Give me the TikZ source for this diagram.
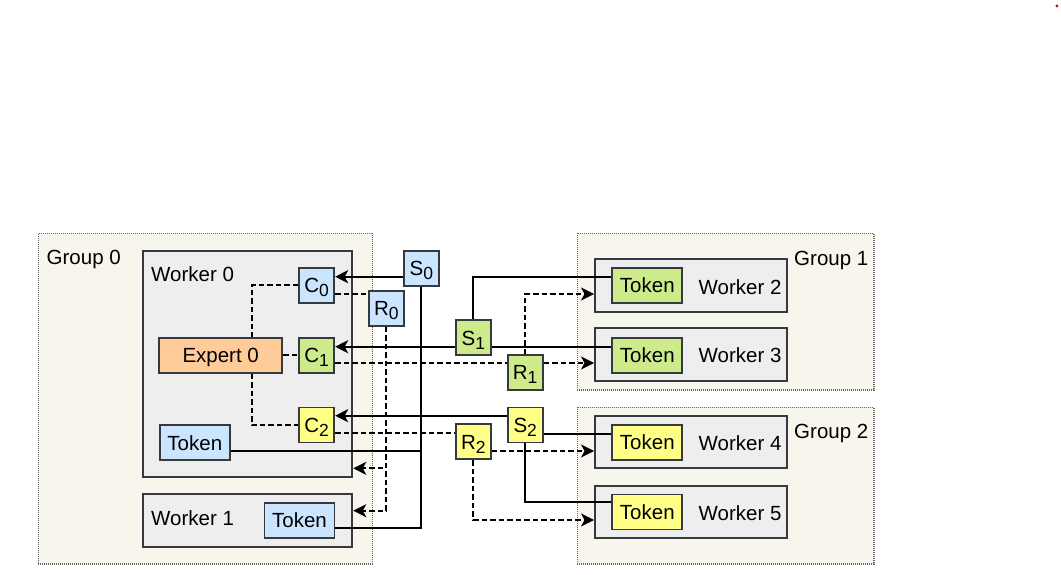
\documentclass[tikz,border=0pt]{standalone}
\usepackage{fontspec}
\setmainfont{Liberation Sans}
\usetikzlibrary{arrows.meta}
\definecolor{strk}{HTML}{36393D}
\definecolor{bl}{HTML}{CCE5FF}
\definecolor{gr}{HTML}{CDEB8B}
\definecolor{yl}{HTML}{FFFF88}
\definecolor{org}{HTML}{FFCC99}
\definecolor{wgray}{HTML}{EEEEEE}
\definecolor{gfill}{HTML}{F8F5EC}
\definecolor{gline}{HTML}{666666}
\newcommand\sbx[1]{\raisebox{-4pt}{\fontsize{17.5pt}{17.5pt}\selectfont #1}}
\begin{document}
\begin{tikzpicture}[x=1pt,y=-1pt,
  font=\fontsize{20.5pt}{24pt}\selectfont,
  box/.style={draw=strk, line width=1.9pt, inner sep=0pt, text height=14.7pt, text depth=0pt},
  sq/.style={box, minimum width=35, minimum height=35},
  tok/.style={box, minimum width=70, minimum height=35},
  wrk/.style={draw=strk, line width=1.9pt, fill=wgray, inner sep=0pt},
  grp/.style={draw=gline, line width=1.1pt, dash pattern=on 1pt off 1pt, fill=gfill, inner sep=0pt},
  con/.style={line width=2pt, black},
  arr/.style={con, -{Stealth[length=13pt,width=13pt,inset=3.5pt]}},
  dsh/.style={con, dash pattern=on 5.5pt off 3pt},
  darr/.style={dsh, -{Stealth[length=13pt,width=13pt,inset=3.5pt]}},
  lbl/.style={inner sep=0pt, anchor=base west},
  lblr/.style={inner sep=0pt, anchor=base east}]
\useasboundingbox (0,0) rectangle (1061,575);
\fill[red!90!black] (1057,6) circle[radius=1.6];
% groups
\node[grp, minimum width=334.4, minimum height=330.7] (G0) at (205.5,398.65) {};
\node[grp, minimum width=296.7, minimum height=156.7] (G1) at (725.65,311.65) {};
\node[grp, minimum width=296.7, minimum height=156.7] (G2) at (725.65,485.65) {};
\node[lbl] (G0l) at (46.5,264.5) {Group 0};
\node[lblr] (G1l) at (868.5,265.5) {Group 1};
\node[lblr] (G2l) at (868.5,438.3) {Group 2};
% workers
\node[wrk, minimum width=209.6, minimum height=225.7] (W0) at (247.5,363.85) {};
\node[wrk, minimum width=209.6, minimum height=52.4] (W1) at (247.5,520.5) {};
\node[wrk, minimum width=192.3, minimum height=53] (W2) at (691.15,285.8) {};
\node[wrk, minimum width=192.3, minimum height=52.7] (W3) at (691.15,354.65) {};
\node[wrk, minimum width=192.3, minimum height=52.6] (W4) at (691.15,442) {};
\node[wrk, minimum width=192.3, minimum height=52.6] (W5) at (691.15,512) {};
\node[lbl] (W0l) at (151,281) {Worker 0};
\node[lbl] (W1l) at (151,525) {Worker 1};
\node[lbl] (W2l) at (698.5,294) {Worker 2};
\node[lbl] (W3l) at (698.5,362.7) {Worker 3};
\node[lbl] (W4l) at (698.5,450.7) {Worker 4};
\node[lbl] (W5l) at (698.5,520) {Worker 5};
% inner nodes
\node[box, fill=org, minimum width=123, minimum height=35] (EX) at (220.7,355.2) {Expert 0};
\node[sq, fill=bl] (C0) at (316.7,285.3) {C\sbx{0}};
\node[sq, fill=gr] (C1) at (316.7,355.2) {C\sbx{1}};
\node[sq, fill=yl] (C2) at (316.7,425) {C\sbx{2}};
\node[sq, fill=bl] (R0) at (386.3,308.3) {R\sbx{0}};
\node[sq, fill=bl] (S0) at (421.3,268.3) {S\sbx{0}};
\node[sq, fill=gr] (S1) at (473.3,337.8) {S\sbx{1}};
\node[sq, fill=gr] (R1) at (525.2,372.5) {R\sbx{1}};
\node[sq, fill=yl] (S2) at (525.2,425) {S\sbx{2}};
\node[sq, fill=yl] (R2) at (473.3,441.8) {R\sbx{2}};
\node[tok, fill=bl] (T0) at (194.8,442.7) {Token};
\node[tok, fill=bl] (T1) at (299.5,520.5) {Token};
\node[tok, fill=gr] (T2) at (647.3,285.3) {Token};
\node[tok, fill=gr] (T3) at (647.3,355.5) {Token};
\node[tok, fill=yl] (T4) at (647.3,442.3) {Token};
\node[tok, fill=yl] (T5) at (647.3,512) {Token};
% connector anchors
\coordinate (e1) at ([yshift=-8.4pt]S0.west);
\coordinate (e2) at ([yshift=-9pt]C0.east);
\coordinate (xp) at ([xshift=31pt]EX.north);
\coordinate (xs) at ([xshift=31pt]EX.south);
\coordinate (w0in) at ([yshift=-104.5pt]W0.east);
\coordinate (w1in) at ([yshift=9.8pt]W1.east);
\coordinate (t0o) at ([yshift=-8.3pt]T0.east);
\coordinate (t1o) at ([yshift=-7.8pt]T1.east);
\coordinate (e10) at ([yshift=-8.9pt]S1.west);
\coordinate (e11) at ([yshift=-7.8pt]C1.east);
\coordinate (t2o) at ([yshift=8.6pt]T2.west);
\coordinate (t3o) at ([yshift=8.8pt]T3.west);
\coordinate (e14) at ([yshift=9.5pt]R1.east);
\coordinate (w2in) at ([yshift=-8.2pt]W2.west);
\coordinate (e16) at ([yshift=9.3pt]S2.west);
\coordinate (e17) at ([yshift=-8.3pt]C2.east);
\coordinate (t4o) at ([yshift=8.3pt]T4.west);
\coordinate (e19) at ([yshift=-9.2pt]R2.east);
\coordinate (t5o) at ([yshift=9.7pt]T5.west);
\coordinate (w5in) at ([yshift=-8pt]W5.west);
% connectors
\draw[arr] (e1) -- (e1 -| C0.east);
\draw[dsh] (e2) -- (e2 -| R0.west);
\draw[dsh] (C0.west) -| (xp);
\draw[dsh] (EX.east) -- (C1.west);
\draw[dsh] (xs) |- (C2.west);
\draw[darr] (R0.south) |- (w0in);
\draw[darr] (R0.south) |- (w1in);
\draw[con] (t0o) -| (S0.south);
\draw[con] (t1o) -| (S0.south);
\draw[arr] (e10) -- (e10 -| C1.east);
\draw[dsh] (e11) -- (e11 -| R1.west);
\draw[con] (t2o) -| (S1.north);
\draw[con] (t3o) -- (t3o -| S1.east);
\draw[darr] (e14) -- (e14 -| W3.west);
\draw[darr] (R1.north) |- (w2in);
\draw[arr] (e16) -- (e16 -| C2.east);
\draw[dsh] (e17) -- (e17 -| R2.west);
\draw[con] (t4o) -- (t4o -| S2.east);
\draw[darr] (e19) -- (e19 -| W4.west);
\draw[con] (t5o) -| (S2.south);
\draw[darr] (R2.south) |- (w5in);
\end{tikzpicture}
\end{document}
